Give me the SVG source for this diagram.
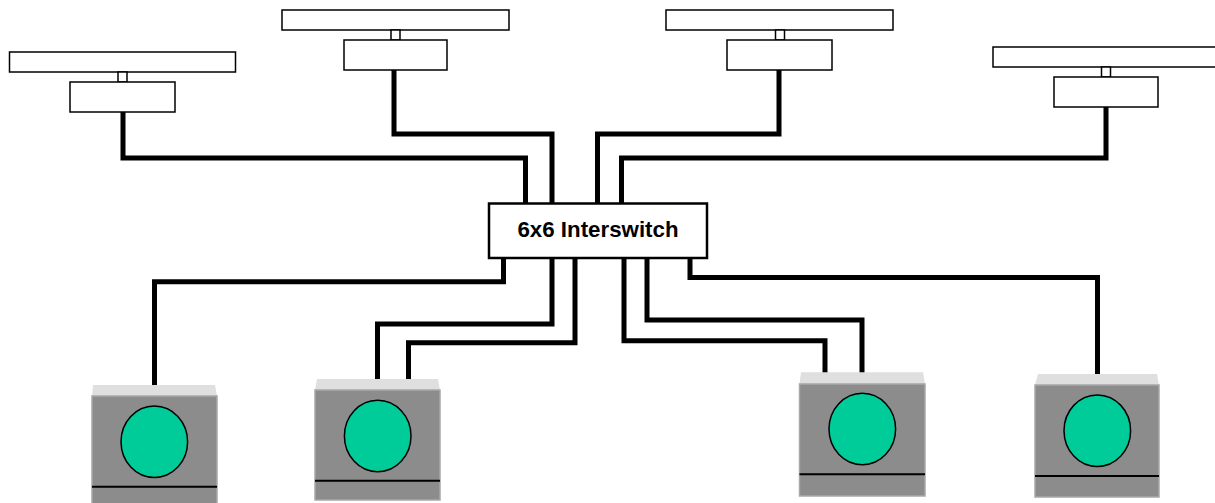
<svg xmlns="http://www.w3.org/2000/svg" width="1215" height="503" viewBox="0 0 1215 503">
<style>
.st{fill:#fff;stroke:#000;stroke-width:1.5}
.w{fill:none;stroke:#000;stroke-width:5;stroke-linejoin:miter;stroke-linecap:butt}
.top{fill:#dfdfdf}
.body{fill:#8c8c8c;stroke:#a8a8a8;stroke-width:1.5}
.disk{fill:#00cc99;stroke:#000;stroke-width:1.5}
.base{stroke:#000;stroke-width:2}
.sw{fill:#fff;stroke:#000;stroke-width:2.5}
.lbl{font-family:"Liberation Sans",Arial,sans-serif;font-weight:bold;font-size:22.3px;fill:#000}
</style>
<rect width="1215" height="503" fill="#fff"/>
<g id="connectors">
<polyline class="w" points="123,112 123,158 525.5,158 525.5,204"/>
<polyline class="w" points="394,70 394,134 552,134 552,204"/>
<polyline class="w" points="779,70 779,134 597.5,134 597.5,204"/>
<polyline class="w" points="1106,107 1106,158 621.5,158 621.5,204"/>
<polyline class="w" points="503.5,257 503.5,281.8 154.5,281.8 154.5,396"/>
<polyline class="w" points="552,257 552,324 377.5,324 377.5,390"/>
<polyline class="w" points="575,257 575,342.8 408.5,342.8 408.5,390"/>
<polyline class="w" points="624,257 624,340.8 825,340.8 825,384"/>
<polyline class="w" points="647,257 647,320 862,320 862,384"/>
<polyline class="w" points="690,256 690,277.5 1097.5,277.5 1097.5,385"/>
</g>
<g id="station1">
<rect class="st" x="9.5" y="52" width="226" height="20"/>
<rect class="st" x="118" y="72" width="9" height="10"/>
<rect class="st" x="70" y="82" width="105" height="30"/>
</g>
<g id="station2">
<rect class="st" x="282" y="10" width="227" height="20"/>
<rect class="st" x="391" y="30" width="9" height="10"/>
<rect class="st" x="344" y="40" width="103" height="30"/>
</g>
<g id="station3">
<rect class="st" x="666" y="10" width="227" height="20"/>
<rect class="st" x="775.5" y="30" width="9" height="10"/>
<rect class="st" x="727" y="40" width="105" height="30"/>
</g>
<g id="station4">
<rect class="st" x="993" y="47" width="224" height="20"/>
<rect class="st" x="1101.5" y="67" width="9" height="10"/>
<rect class="st" x="1054" y="77" width="104" height="30"/>
</g>
<g id="switch">
<rect class="sw" x="489" y="203.5" width="218" height="54.5"/>
<text class="lbl" x="598" y="236.5" text-anchor="middle">6x6 Interswitch</text>
</g>
<g id="device1">
<polygon class="top" points="93,385 215,385 217,396 92,396"/>
<rect class="body" x="92" y="396" width="125" height="110"/>
<ellipse class="disk" cx="154.3" cy="441.7" rx="33.3" ry="35.7"/>
<line class="base" x1="92" y1="486.7" x2="217" y2="486.7"/>
</g>
<g id="device2">
<polygon class="top" points="317,379 438,379 440,390 315,390"/>
<rect class="body" x="315" y="390" width="125" height="110"/>
<ellipse class="disk" cx="377.7" cy="436" rx="33.3" ry="35.8"/>
<line class="base" x1="315" y1="480.7" x2="440" y2="480.7"/>
</g>
<g id="device3">
<polygon class="top" points="801,372.3 923,372.3 925,384 799.5,384"/>
<rect class="body" x="799.5" y="384" width="125.5" height="112"/>
<ellipse class="disk" cx="862.3" cy="429" rx="33.3" ry="35.8"/>
<line class="base" x1="799.5" y1="474.3" x2="925" y2="474.3"/>
</g>
<g id="device4">
<polygon class="top" points="1038,374 1157,374 1159,385 1035,385"/>
<rect class="body" x="1035" y="385" width="124" height="112"/>
<ellipse class="disk" cx="1097.3" cy="430.7" rx="33.3" ry="35.8"/>
<line class="base" x1="1035" y1="476" x2="1159" y2="476"/>
</g>
</svg>
